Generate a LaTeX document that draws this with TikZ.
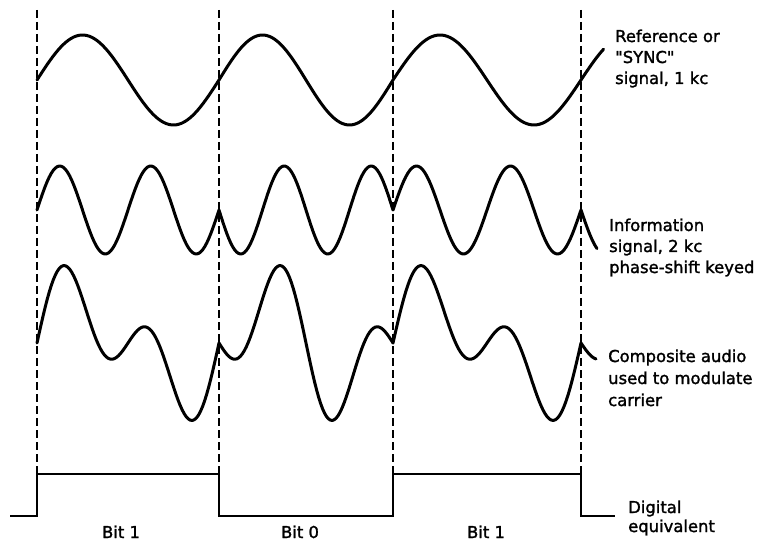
\documentclass[tikz,border=0pt]{standalone}
\usepackage{fontspec}
\setmainfont{DejaVu Sans}[Ligatures=TeXOff, FakeBold=1.6]
\begin{document}
\begin{tikzpicture}[x=1pt, y=-1pt,
  wave/.style={line width=3pt, line join=round, line cap=round},
  edgeline/.style={line width=1.4pt, dash pattern=on 8pt off 4pt},
  level/.style={line width=2.6pt, line join=miter},
  tag/.style={anchor=base west, align=left, inner sep=0pt,
    font=\fontsize{16.4}{21}\selectfont},
  bitname/.style={anchor=base, inner sep=0pt, font=\fontsize{16.4}{19}\selectfont}]

\useasboundingbox (0,0) rectangle (768,545);

\newcommand\XA{37}
\newcommand\XB{219}
\newcommand\XC{393}
\newcommand\XD{581}

\newcommand\YS{80}
\newcommand\YI{210}
\newcommand\YM{343}

%% bit edges
\draw[edgeline] (\XA,10) -- (\XA,474);
\draw[edgeline] (\XB,10) -- (\XB,474);
\draw[edgeline] (\XC,10) -- (\XC,474);
\draw[edgeline] (\XD,10) -- (\XD,474);

%% reference, 1 kc
\draw[wave] plot[domain=0:1, samples=70] ({\XA+\x*(\XB-\XA)}, {\YS-45*sin(360*\x)})
  -- plot[domain=0:1, samples=70] ({\XB+\x*(\XC-\XB)}, {\YS-45*sin(360*\x)})
  -- plot[domain=0:1, samples=70] ({\XC+\x*(\XD-\XC)}, {\YS-45*sin(360*\x)})
  -- plot[domain=0:0.12, samples=12] ({\XD+\x*(\XD-\XC)}, {\YS-45*sin(360*\x)});

%% information, 2 kc
\draw[wave] plot[domain=0:1, samples=90] ({\XA+\x*(\XB-\XA)}, {\YI-44*sin(720*\x)})
  -- plot[domain=0:1, samples=90] ({\XB+\x*(\XC-\XB)}, {\YI+44*sin(720*\x)})
  -- plot[domain=0:1, samples=90] ({\XC+\x*(\XD-\XC)}, {\YI-44*sin(720*\x)})
  -- plot[domain=0:0.085, samples=12] ({\XD+\x*(\XD-\XC)}, {\YI+44*sin(720*\x)});

%% composite
\draw[wave] plot[domain=0:1, samples=90] ({\XA+\x*(\XB-\XA)}, {\YM-44*(sin(360*\x)+sin(720*\x))})
  -- plot[domain=0:1, samples=90] ({\XB+\x*(\XC-\XB)}, {\YM-44*(sin(360*\x)-sin(720*\x))})
  -- plot[domain=0:1, samples=90] ({\XC+\x*(\XD-\XC)}, {\YM-44*(sin(360*\x)+sin(720*\x))})
  -- plot[domain=0:0.08, samples=12] ({\XD+\x*(\XD-\XC)}, {\YM-44*(sin(360*\x)-sin(720*\x))});

%% digital
\draw[level] (10,516) -- (\XA,516) -- (\XA,474) -- (\XB,474) -- (\XB,516)
  -- (\XC,516) -- (\XC,474) -- (\XD,474) -- (\XD,516) -- (615,516);

%% labels (base = last line)
\node[tag] (sync) at (615,84) {Reference or\\"SYNC"\\signal, 1 kc};
\node[tag] (info) at (609,273) {Information\\signal, 2 kc\\phase-shift keyed};
\node[tag, font=\fontsize{16.4}{22}\selectfont] (comp) at (608,406)
  {Composite audio\\used to modulate\\carrier};
\node[tag, font=\fontsize{16.4}{19}\selectfont] (digi) at (628,532) {Digital\\equivalent};

\node[bitname] (bita) at (121,538) {Bit 1};
\node[bitname] (bitb) at (300,538) {Bit 0};
\node[bitname] (bitc) at (486,538) {Bit 1};

\end{tikzpicture}
\end{document}
